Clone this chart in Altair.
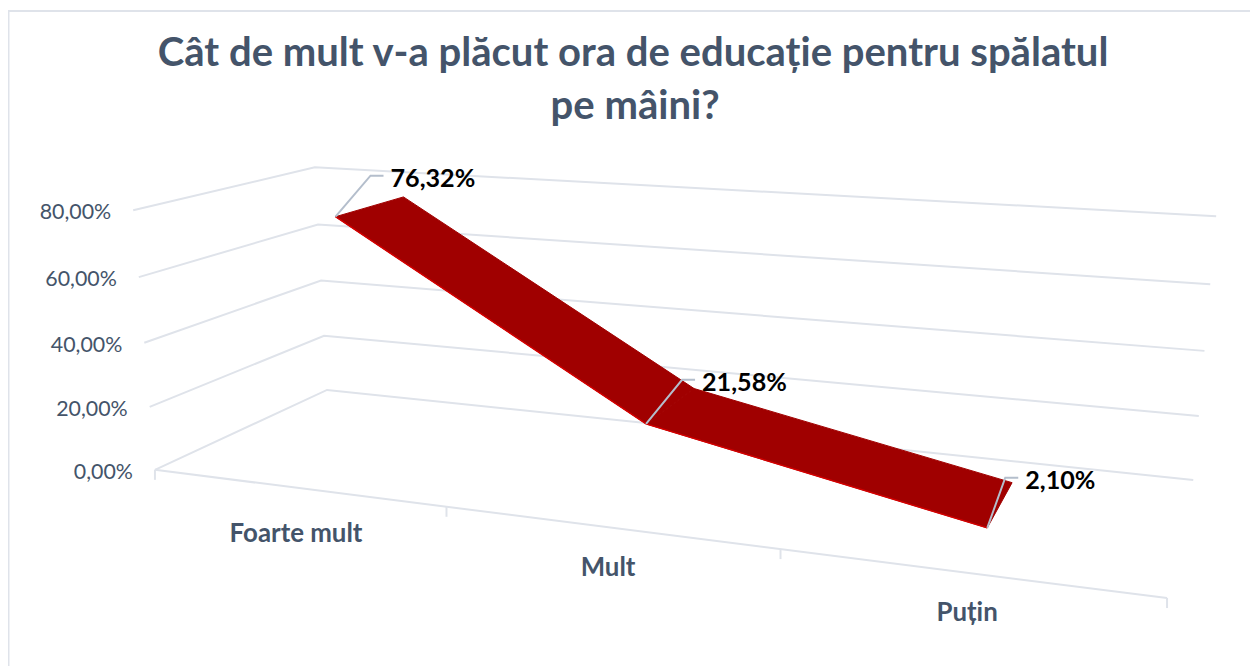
import altair as alt
import numpy as np
import pandas as pd

# ---- data
categories = ["Foarte mult", "Mult", "Puțin"]
values = [76.32, 21.58, 2.10]
value_labels = ["76,32%", "21,58%", "2,10%"]
axis_ticks = [0, 20, 40, 60, 80]
axis_labels = ["0,00%", "20,00%", "40,00%", "60,00%", "80,00%"]
title_lines = ["Cât de mult v-a plăcut ora de educație pentru spălatul", "pe mâini?"]

# ---- oblique 3-D camera: (category position, value, depth) -> page pixels
CAMERA_3D = [(0, 0, 0), (0, 80, 0), (0, 0, 1), (0, 80, 1), (1, 0, 1), (1, 80, 1), (1, 0, 0),
             (1/3, 0, 0), (2/3, 0, 0)]
CAMERA_2D = [(155, 469), (133, 211), (327, 390), (315, 167), (1193, 480), (1216, 216), (1167, 597),
             (446, 506), (781, 549)]
rows = []
for (a, b, c), (u, v) in zip(CAMERA_3D, CAMERA_2D):
    rows.append([a, b, c, 1, 0, 0, 0, 0, -u*a, -u*b, -u*c, -u])
    rows.append([0, 0, 0, 0, a, b, c, 1, -v*a, -v*b, -v*c, -v])
P = np.linalg.svd(np.array(rows, float))[2][-1].reshape(3, 4)


def project(c, v, d):
    h = P @ np.array([c, v, d, 1.0])
    return float(h[0] / h[2]), float(h[1] / h[2])


DEPTH_FRONT, DEPTH_BACK = 0.30, 0.72
centers = [(i + 0.5) / len(categories) for i in range(len(categories))]

W, H = 1250, 660
X0, X1 = 8, 1249.9
Y0, Y1 = 10.5, 665.2
X = alt.Scale(domain=[X0, X1], range=[0, W], nice=False, zero=False)
Y = alt.Scale(domain=[Y0, Y1], range=[0, H], nice=False, zero=False)
GRID = "#DFE3EA"
SLATE = "#44546A"
FONT = "Lato"


def xy():
    return dict(x=alt.X("x:Q", scale=X, axis=None), y=alt.Y("y:Q", scale=Y, axis=None))


def lines(df, color, width):
    return alt.Chart(df).mark_line(color=color, strokeWidth=width, strokeCap="butt", clip=True).encode(
        detail="id:N", order="i:Q", **xy())


def paths(groups):
    return pd.DataFrame([{"id": k, "i": i, "x": p[0], "y": p[1]}
                         for k, pts in enumerate(groups) for i, p in enumerate(pts)])


# frame
frame = paths([[(X0 + 0.5, Y1), (X0 + 0.5, Y0 + 0.8), (X1, Y0 + 0.8)]])

# wall / floor gridlines
grid = paths([[project(0, t, 0), project(0, t, 1), project(1, t, 1)] for t in axis_ticks] +
             [[project(0, 0, 0), project(1, 0, 0)]])
ticks = paths([[project(i / 3, 0, 0), (project(i / 3, 0, 0)[0], project(i / 3, 0, 0)[1] + 10)] for i in range(4)])

# ribbon
front = [project(c, v, DEPTH_FRONT) for c, v in zip(centers, values)]
back = [project(c, v, DEPTH_BACK) for c, v in zip(centers, values)]
quads = []
for k in range(len(values) - 1):
    quads.append([front[k], back[k], back[k + 1], front[k + 1], front[k]])
ribbon_df = paths(quads)
ribbon = alt.Chart(ribbon_df).mark_line(fill="#A00000", stroke="#A00000", strokeWidth=1, strokeJoin="round").encode(
    detail="id:N", order="i:Q", **xy())
edge = lines(paths([front]), "#D40000", 1.5)

# leaders and labels
LEADER = [(35, -41), (36, -44), (18, -50)]
leaders = paths([[f, (f[0] + o[0], f[1] + o[1]), (f[0] + o[0] + 13, f[1] + o[1])] for f, o in zip(front, LEADER)])
lab_df = pd.DataFrame([{"x": f[0] + o[0] + 20, "y": f[1] + o[1] + 3, "t": t}
                       for f, o, t in zip(front, LEADER, value_labels)])
labels = alt.Chart(lab_df).mark_text(align="left", baseline="middle", font=FONT, fontWeight="bold",
                                     fontSize=25.3, color="#000000").encode(text="t:N", **xy())

# axis labels
ax_df = pd.DataFrame([{"x": project(0, t, 0)[0] - 22, "y": project(0, t, 0)[1] + 3, "t": s}
                      for t, s in zip(axis_ticks, axis_labels)])
ax = alt.Chart(ax_df).mark_text(align="right", baseline="middle", font=FONT, fontSize=21.5, color=SLATE).encode(
    text="t:N", **xy())

CAT_POS = [(296, 534), (608, 568), (967, 612)]
cat_df = pd.DataFrame([{"x": p[0], "y": p[1], "t": t} for p, t in zip(CAT_POS, categories)])
cat = alt.Chart(cat_df).mark_text(align="center", baseline="middle", font=FONT, fontWeight="bold", fontSize=26,
                                  color=SLATE).encode(text="t:N", **xy())

title_df = pd.DataFrame([{"x": 633, "y": 54, "t": title_lines[0]}, {"x": 635, "y": 107, "t": title_lines[1]}])
title = alt.Chart(title_df).mark_text(align="center", baseline="middle", font=FONT, fontWeight="bold", fontSize=40.3,
                                      color=SLATE).encode(text="t:N", **xy())

chart = alt.layer(
    lines(frame, GRID, 2), lines(grid, GRID, 2), lines(ticks, GRID, 2), ribbon, edge,
    lines(leaders, "#B4BECC", 2), labels, ax, cat, title
).properties(width=W, height=H, padding=0, autosize=alt.AutoSizeParams(type="none")).configure_view(stroke=None)

chart.save("out.html", embed_options={"renderer": "svg", "actions": False})
